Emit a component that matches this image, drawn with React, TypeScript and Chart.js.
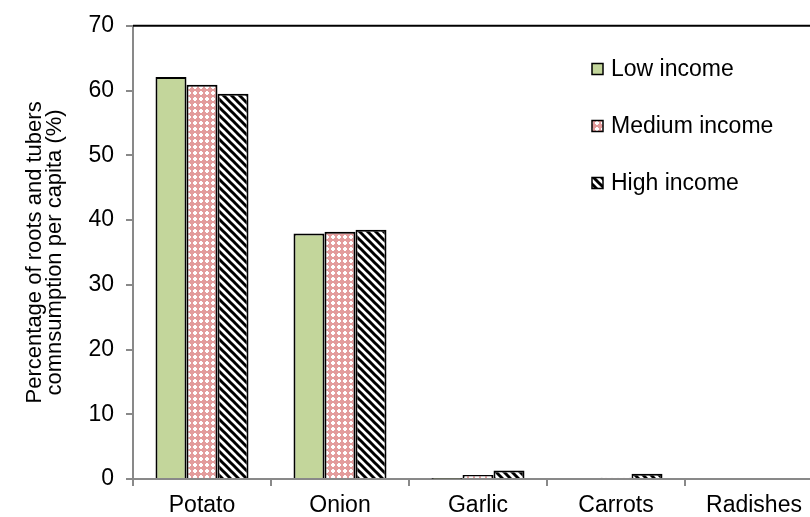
import React, { useEffect, useRef } from "react";
import { Chart, registerables } from "chart.js";

Chart.register(...registerables);

const categories = ["Potato", "Onion", "Garlic", "Carrots", "Radishes"];
const lowIncome = [62.1, 37.9, 0.05, 0.0, 0.0];
const mediumIncome = [60.9, 38.2, 0.6, 0.2, 0.0];
const highIncome = [59.5, 38.5, 1.3, 0.8, 0.0];
const seriesNames = ["Low income", "Medium income", "High income"];
const yTitle = ["Percentage of roots and tubers", "comnsumption per capita (%)"];

const FONT = "'Liberation Sans', Arial, sans-serif";

function makeMediumPattern(ctx: CanvasRenderingContext2D): CanvasPattern | string {
  const c = document.createElement("canvas");
  c.width = 6;
  c.height = 6;
  const g = c.getContext("2d");
  if (!g) return "#E6A0A0";
  g.fillStyle = "#E39C9C";
  g.fillRect(0, 0, 6, 6);
  g.fillStyle = "#FFFFFF";
  g.fillRect(2, 1, 2, 4);
  g.fillRect(1, 2, 4, 2);
  return ctx.createPattern(c, "repeat") || "#E6A0A0";
}

function makeHighPattern(ctx: CanvasRenderingContext2D): CanvasPattern | string {
  const c = document.createElement("canvas");
  c.width = 8;
  c.height = 8;
  const g = c.getContext("2d");
  if (!g) return "#555";
  g.fillStyle = "#FFFFFF";
  g.fillRect(0, 0, 8, 8);
  g.strokeStyle = "#000000";
  g.lineWidth = 3;
  for (let k = -8; k <= 16; k += 8) {
    g.beginPath();
    g.moveTo(k - 2, -2);
    g.lineTo(k + 10, 10);
    g.stroke();
  }
  return ctx.createPattern(c, "repeat") || "#555";
}

export default function App() {
  const ref = useRef<HTMLCanvasElement | null>(null);

  useEffect(() => {
    const canvas = ref.current;
    if (!canvas) return;
    const ctx = canvas.getContext("2d");
    if (!ctx) return;
    const medPat = makeMediumPattern(ctx);
    const highPat = makeHighPattern(ctx);
    const fills = ["#C3D69B", medPat, highPat];

    const legendPlugin = {
      id: "customLegend",
      afterDraw(chart: any) {
        const c = chart.ctx;
        c.save();
        const x = 592;
        const ys = [69, 126, 183];
        c.font = `23px ${FONT}`;
        c.textBaseline = "middle";
        c.textAlign = "left";
        seriesNames.forEach((name, i) => {
          c.fillStyle = fills[i] as any;
          c.fillRect(x, ys[i] - 5.5, 11, 11);
          c.strokeStyle = "#000";
          c.lineWidth = 1.5;
          c.strokeRect(x, ys[i] - 5.5, 11, 11);
          c.fillStyle = "#000";
          c.fillText(name, x + 19, ys[i] + 1);
        });
        c.restore();
      },
    };

    const topLine = {
      id: "topLine",
      afterDraw(chart: any) {
        const a = chart.chartArea;
        const c = chart.ctx;
        c.save();
        c.strokeStyle = "#000";
        c.lineWidth = 2;
        c.beginPath();
        c.moveTo(a.left, a.top);
        c.lineTo(a.right + 20, a.top);
        c.stroke();
        c.restore();
      },
    };

    const data = [lowIncome, mediumIncome, highIncome];
    const chart = new Chart(ctx, {
      type: "bar",
      data: {
        labels: categories,
        datasets: seriesNames.map((name, i) => ({
          label: name,
          data: data[i],
          backgroundColor: fills[i] as any,
          borderColor: "#000000",
          borderWidth: 2,
          borderSkipped: "bottom",
          categoryPercentage: 0.674,
          barPercentage: 1.0,
        })),
      },
      options: {
        animation: false,
        responsive: false,
        maintainAspectRatio: false,
        layout: { padding: { top: 25, right: 7, left: 0, bottom: 0 } },
        plugins: {
          legend: { display: false },
          tooltip: { enabled: false },
        },
        scales: {
          x: {
            grid: {
              display: true,
              drawOnChartArea: false,
              offset: true,
              tickLength: 7,
              color: "#898989",
              lineWidth: 2,
            },
            border: { display: true, color: "#898989", width: 2 },
            ticks: {
              color: "#000",
              font: { family: FONT, size: 23 },
              padding: 6,
              maxRotation: 0,
            },
            afterFit(scale: any) {
              scale.height = 38;
            },
          },
          y: {
            min: 0,
            max: 70,
            ticks: {
              stepSize: 10,
              color: "#000",
              font: { family: FONT, size: 23 },
              padding: 12,
            },
            grid: {
              display: true,
              drawOnChartArea: false,
              tickLength: 7,
              color: "#898989",
              lineWidth: 2,
            },
            border: { display: true, color: "#898989", width: 2 },
            title: {
              display: true,
              text: yTitle,
              color: "#000",
              font: { family: FONT, size: 22, lineHeight: 0.95 },
              padding: { top: 24, bottom: 0 },
            },
            afterFit(scale: any) {
              scale.width = 133;
            },
          },
        },
      },
      plugins: [legendPlugin, topLine],
    });

    return () => chart.destroy();
  }, []);

  return (
    <div
      style={{
        position: "fixed",
        left: 0,
        top: 0,
        width: 810,
        height: 517,
        overflow: "hidden",
        background: "#fff",
      }}
    >
      <canvas ref={ref} width={830} height={517} style={{ display: "block" }} />
    </div>
  );
}
